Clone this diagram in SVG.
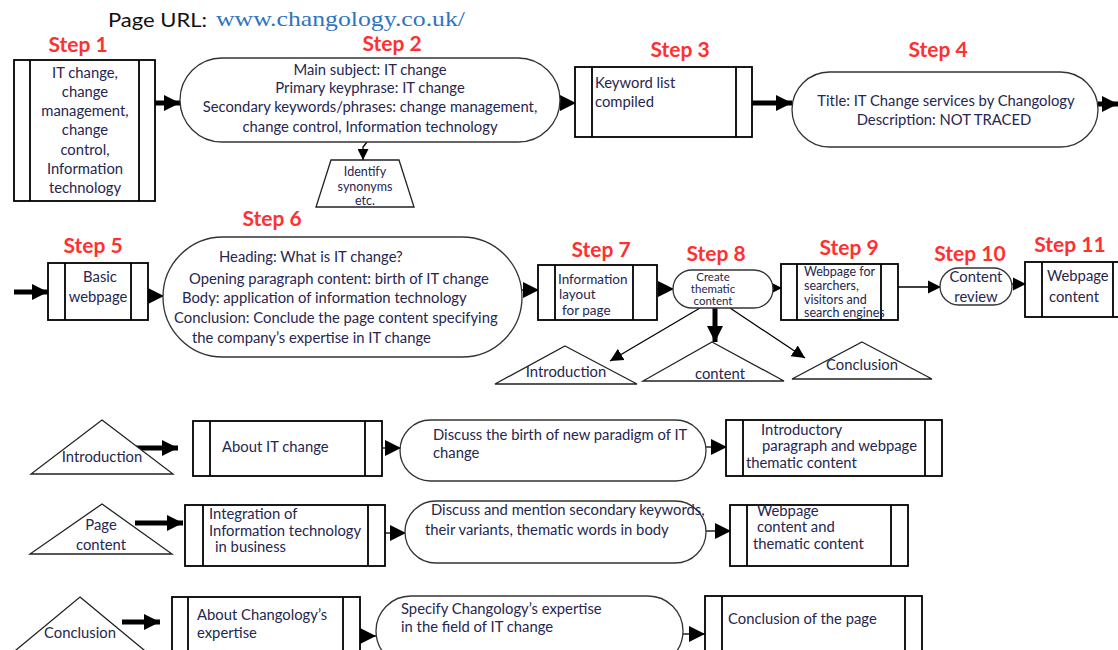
<svg xmlns="http://www.w3.org/2000/svg" width="1118" height="650" viewBox="0 0 1118 650">
<style>
text{font-family:Lato,"Open Sans","Liberation Sans",sans-serif;font-size:14.8px;fill:#26264f}
.c{text-anchor:middle}
.sm{font-size:13.5px}
.s13{font-size:12.5px}
.xs{font-size:11.5px}
.step{font-family:Lato,"Liberation Sans",sans-serif;font-weight:bold;font-size:21px;fill:#ff3030;text-anchor:middle}
.box{fill:#fff;stroke:#000;stroke-width:1.8}
.term{fill:#fff;stroke:#333;stroke-width:1.3}
.tri{fill:#fff;stroke:#222;stroke-width:1.3}
.thick{stroke:#000;stroke-width:5;fill:none}
.thin{stroke:#000;stroke-width:1.3;fill:none}
</style>
<defs>
<marker id="ah" viewBox="0 0 10 10" refX="10" refY="5" markerWidth="16" markerHeight="16" markerUnits="userSpaceOnUse" orient="auto"><path d="M0,0L10,5L0,10z" fill="#000"/></marker>
<marker id="ahm" viewBox="0 0 10 10" refX="10" refY="5" markerWidth="13" markerHeight="14" markerUnits="userSpaceOnUse" orient="auto"><path d="M0,0L10,5L0,10z" fill="#000"/></marker>
<marker id="ahs" viewBox="0 0 10 10" refX="10" refY="5" markerWidth="11" markerHeight="11" markerUnits="userSpaceOnUse" orient="auto"><path d="M0,0L10,5L0,10z" fill="#000"/></marker>
</defs>
<rect width="1118" height="650" fill="#fff"/>

<g id="title">
<text x="108" y="27" textLength="99" lengthAdjust="spacingAndGlyphs" style="font-size:20px;fill:#111">Page URL:</text>
<text x="216" y="26" textLength="249" lengthAdjust="spacingAndGlyphs" style="font-family:'Liberation Serif',serif;font-size:21px;fill:#2e74c0">www.changology.co.uk/</text>
</g>

<g id="connectors">
<line x1="155" y1="103" x2="180" y2="103" class="thick" marker-end="url(#ah)"/>
<line x1="560" y1="103" x2="576" y2="103" class="thin" marker-end="url(#ah)"/>
<line x1="752" y1="103" x2="792" y2="103" class="thick" marker-end="url(#ah)"/>
<line x1="1098" y1="104" x2="1118" y2="104" class="thick" marker-end="url(#ah)"/>
<polyline points="367,142 363,147 363,160" class="thin" marker-end="url(#ahs)"/>
<line x1="14" y1="292" x2="48" y2="292" class="thick" marker-end="url(#ah)"/>
<line x1="148" y1="296" x2="164" y2="296" class="thin" marker-end="url(#ah)"/>
<line x1="522" y1="290" x2="539" y2="290" class="thin" marker-end="url(#ah)"/>
<line x1="657" y1="289" x2="674" y2="289" class="thin" marker-end="url(#ah)"/>
<line x1="773" y1="288" x2="782" y2="288" class="thin" marker-end="url(#ahs)"/>
<line x1="898" y1="287" x2="941" y2="287" class="thin" marker-end="url(#ahm)"/>
<line x1="1012" y1="284" x2="1026" y2="284" class="thin" marker-end="url(#ahm)"/>
<line x1="715" y1="308" x2="715" y2="342" class="thick" marker-end="url(#ah)"/>
<line x1="700" y1="308" x2="610" y2="361" class="thin" marker-end="url(#ahm)"/>
<line x1="730" y1="308" x2="805" y2="358" class="thin" marker-end="url(#ahm)"/>
<line x1="135" y1="448" x2="178" y2="448" class="thick" marker-end="url(#ah)"/>
<line x1="382" y1="448" x2="401" y2="448" class="thin" marker-end="url(#ah)"/>
<line x1="706" y1="447" x2="727" y2="447" class="thin" marker-end="url(#ah)"/>
<line x1="135" y1="523" x2="183" y2="523" class="thick" marker-end="url(#ah)"/>
<line x1="385" y1="533" x2="406" y2="533" class="thin" marker-end="url(#ah)"/>
<line x1="706" y1="531" x2="731" y2="531" class="thin" marker-end="url(#ah)"/>
<line x1="122" y1="622" x2="160" y2="622" class="thick" marker-end="url(#ah)"/>
<line x1="360" y1="636" x2="376" y2="636" class="thin" marker-end="url(#ah)"/>
<line x1="683" y1="634" x2="705" y2="634" class="thin" marker-end="url(#ah)"/>
</g>

<g id="step1">
<text x="78" y="52" class="step">Step 1</text>
<rect x="14" y="60" width="141" height="141" class="box"/>
<line x1="30" y1="60" x2="30" y2="201" class="box"/>
<line x1="139" y1="60" x2="139" y2="201" class="box"/>
<text x="85" y="78" class="c">IT change,</text>
<text x="85" y="97" class="c">change</text>
<text x="85" y="116" class="c">management,</text>
<text x="85" y="135" class="c">change</text>
<text x="85" y="155" class="c">control,</text>
<text x="85" y="174" class="c">Information</text>
<text x="85" y="193" class="c">technology</text>
</g>

<g id="step2">
<text x="392" y="51" class="step">Step 2</text>
<rect x="180" y="58" width="380" height="84" rx="42" class="term"/>
<text x="370" y="75" class="c">Main subject: IT change</text>
<text x="370" y="93" class="c">Primary keyphrase: IT change</text>
<text x="370" y="112" class="c">Secondary keywords/phrases: change management,</text>
<text x="370" y="132" class="c">change control, Information technology</text>
</g>

<g id="synonyms">
<polygon points="331,160 399,160 414,207 316,207" class="tri"/>
<text x="365" y="176" class="c s13">Identify</text>
<text x="365" y="191" class="c s13">synonyms</text>
<text x="365" y="205" class="c s13">etc.</text>
</g>

<g id="step3">
<text x="680" y="57" class="step">Step 3</text>
<rect x="575" y="67" width="177" height="70" class="box"/>
<line x1="592" y1="67" x2="592" y2="137" class="box"/>
<line x1="736" y1="67" x2="736" y2="137" class="box"/>
<text x="595" y="88">Keyword list</text>
<text x="595" y="107">compiled</text>
</g>

<g id="step4">
<text x="938" y="57" class="step">Step 4</text>
<rect x="792" y="72" width="306" height="75" rx="37.5" class="term"/>
<text x="946" y="106" class="c">Title: IT Change services by Changology</text>
<text x="944" y="125" class="c">Description: NOT TRACED</text>
</g>

<g id="step5">
<text x="93" y="253" class="step">Step 5</text>
<rect x="48" y="263" width="100" height="57" class="box"/>
<line x1="65" y1="263" x2="65" y2="320" class="box"/>
<line x1="131" y1="263" x2="131" y2="320" class="box"/>
<text x="100" y="282" class="c">Basic</text>
<text x="98" y="302" class="c">webpage</text>
</g>

<g id="step6">
<text x="272" y="226" class="step">Step 6</text>
<rect x="163" y="237" width="359" height="120" rx="60" class="term"/>
<text x="219" y="262">Heading: What is IT change?</text>
<text x="189" y="284">Opening paragraph content: birth of IT change</text>
<text x="182" y="303">Body: application of information technology</text>
<text x="174" y="323">Conclusion: Conclude the page content specifying</text>
<text x="192" y="343">the company’s expertise in IT change</text>
</g>

<g id="step7">
<text x="601" y="257" class="step">Step 7</text>
<rect x="538" y="265" width="119" height="55" class="box"/>
<line x1="555" y1="265" x2="555" y2="320" class="box"/>
<line x1="633" y1="265" x2="633" y2="320" class="box"/>
<text x="558" y="284" class="sm">Information</text>
<text x="559" y="299" class="sm">layout</text>
<text x="562" y="315" class="sm">for  page</text>
</g>

<g id="step8">
<text x="716" y="261" class="step">Step 8</text>
<rect x="673" y="270" width="100" height="38" rx="19" class="term"/>
<text x="713" y="281" class="c xs">Create</text>
<text x="713" y="293" class="c xs">thematic</text>
<text x="713" y="305" class="c xs">content</text>
</g>

<g id="step9">
<text x="849" y="255" class="step">Step 9</text>
<rect x="781" y="264" width="117" height="56" class="box"/>
<line x1="797" y1="264" x2="797" y2="320" class="box"/>
<line x1="881" y1="264" x2="881" y2="320" class="box"/>
<text x="804" y="276" class="s13">Webpage for</text>
<text x="804" y="290" class="s13">searchers,</text>
<text x="804" y="304" class="s13">visitors  and</text>
<text x="804" y="317" class="s13">search  engines</text>
</g>

<g id="step10">
<text x="970" y="261" class="step">Step 10</text>
<rect x="940" y="268" width="72" height="37" rx="18.5" class="term"/>
<text x="976" y="282" class="c">Content</text>
<text x="976" y="302" class="c">review</text>
</g>

<g id="step11">
<text x="1070" y="252" class="step">Step 11</text>
<rect x="1025" y="262" width="100" height="55" class="box"/>
<line x1="1042" y1="262" x2="1042" y2="317" class="box"/>
<line x1="1113" y1="262" x2="1113" y2="317" class="box"/>
<text x="1047" y="281">Webpage</text>
<text x="1049" y="302">content</text>
</g>

<g id="tri-introduction">
<polygon points="565,346 637,384 495,384" class="tri"/>
<text x="566" y="377" class="c">Introduction</text>
</g>
<g id="tri-content">
<polygon points="712,342 784,381 643,381" class="tri"/>
<text x="720" y="379" class="c">content</text>
</g>
<g id="tri-conclusion">
<polygon points="862,342 932,379 792,379" class="tri"/>
<text x="862" y="370" class="c">Conclusion</text>
</g>

<g id="intro-tri">
<polygon points="102,420 173,474 31,474" class="tri"/>
<text x="102" y="462" class="c">Introduction</text>
</g>
<g id="intro-about">
<rect x="193" y="421" width="189" height="55" class="box"/>
<line x1="210" y1="421" x2="210" y2="476" class="box"/>
<line x1="365" y1="421" x2="365" y2="476" class="box"/>
<text x="222" y="452">About  IT change</text>
</g>
<g id="intro-discuss">
<rect x="400" y="420" width="306" height="61" rx="30.5" class="term"/>
<text x="433" y="440">Discuss the birth of new paradigm of IT</text>
<text x="433" y="458">change</text>
</g>
<g id="intro-result">
<rect x="726" y="420" width="216" height="56" class="box"/>
<line x1="743" y1="420" x2="743" y2="476" class="box"/>
<line x1="925" y1="420" x2="925" y2="476" class="box"/>
<text x="761" y="435">Introductory</text>
<text x="762" y="451">paragraph and webpage</text>
<text x="746" y="468">thematic content</text>
</g>

<g id="page-tri">
<polygon points="102,504 172,554 30,554" class="tri"/>
<text x="101" y="530" class="c">Page</text>
<text x="101" y="550" class="c">content</text>
</g>
<g id="page-integration">
<rect x="185" y="505" width="200" height="61" class="box"/>
<line x1="203" y1="505" x2="203" y2="566" class="box"/>
<line x1="368" y1="505" x2="368" y2="566" class="box"/>
<text x="209" y="519">Integration of</text>
<text x="209" y="536">Information technology</text>
<text x="215" y="552">in business</text>
</g>
<g id="page-discuss">
<rect x="405" y="501" width="301" height="62" rx="31" class="term"/>
<text x="431" y="515">Discuss and mention secondary keywords,</text>
<text x="425" y="535">their  variants, thematic words in body</text>
</g>
<g id="page-result">
<rect x="730" y="505" width="178" height="61" class="box"/>
<line x1="747" y1="505" x2="747" y2="566" class="box"/>
<line x1="891" y1="505" x2="891" y2="566" class="box"/>
<text x="757" y="516">Webpage</text>
<text x="757" y="532">content and</text>
<text x="753" y="549">thematic  content</text>
</g>

<g id="concl-tri">
<polygon points="80,597 150,655 10,655" class="tri"/>
<text x="80" y="638" class="c">Conclusion</text>
</g>
<g id="concl-about">
<rect x="172" y="597" width="188" height="60" class="box"/>
<line x1="188" y1="597" x2="188" y2="657" class="box"/>
<line x1="343" y1="597" x2="343" y2="657" class="box"/>
<text x="197" y="620">About  Changology’s</text>
<text x="197" y="638">expertise</text>
</g>
<g id="concl-specify">
<rect x="376" y="596" width="307" height="70" rx="35" class="term"/>
<text x="401" y="614">Specify Changology’s expertise</text>
<text x="401" y="632">in the field of IT change</text>
</g>
<g id="concl-result">
<rect x="705" y="596" width="217" height="60" class="box"/>
<line x1="722" y1="596" x2="722" y2="656" class="box"/>
<line x1="905" y1="596" x2="905" y2="656" class="box"/>
<text x="728" y="624">Conclusion of the page</text>
</g>
</svg>
